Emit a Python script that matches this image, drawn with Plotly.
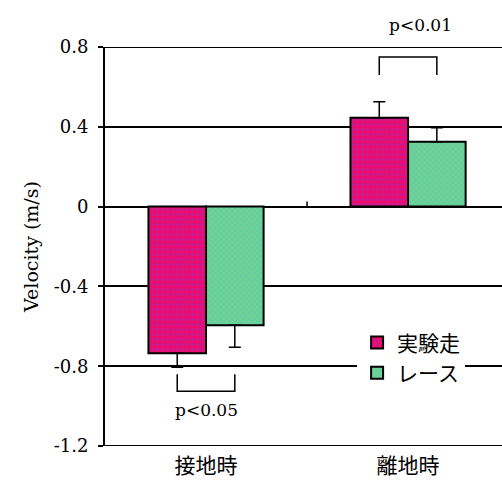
import plotly.graph_objects as go

categories = ["接地時", "離地時"]
series_names = ["実験走", "レース"]
jikken_values = [-0.735, 0.445]
jikken_sd = [0.07, 0.08]
race_values = [-0.595, 0.325]
race_sd = [0.11, 0.07]
y_ticks = [0.8, 0.4, 0, -0.4, -0.8, -1.2]
y_tick_labels = ["0.8", "0.4", "0", "-0.4", "-0.8", "-1.2"]
sig_labels = ["p<0.05", "p<0.01"]

xpos = list(range(len(categories)))
SERIF = "DejaVu Serif"
JP = "Noto Sans CJK JP"

def split_err(vals, sd):
    plus = [s if v >= 0 else 0 for v, s in zip(vals, sd)]
    minus = [s if v < 0 else 0 for v, s in zip(vals, sd)]
    return plus, minus

fig = go.Figure()
colors = ["#EC0B70", "#62CFA0"]
pats = [dict(shape=".", fgcolor="#7a3fc0", size=5, solidity=0.25),
        dict(shape="x", fgcolor="#b8d860", size=4, solidity=0.25)]
for name, vals, sd, col, pat in [
    (series_names[0], jikken_values, jikken_sd, colors[0], pats[0]),
    (series_names[1], race_values, race_sd, colors[1], pats[1]),
]:
    p, m = split_err(vals, sd)
    fig.add_trace(go.Bar(
        x=xpos, y=vals, name=name,
        marker=dict(color=col, line=dict(color="black", width=2), pattern=pat),
        error_y=dict(type="data", symmetric=False, array=p, arrayminus=m,
                     color="black", thickness=1.5, width=6),
    ))

# significance brackets
half = 0.1425
fig.add_shape(type="path", path=f"M {-half},-0.84 L {-half},-0.925 L {half},-0.925 L {half},-0.84",
              line=dict(color="black", width=1.5))
fig.add_shape(type="path", path=f"M {1-half},0.66 L {1-half},0.75 L {1+half},0.75 L {1+half},0.66",
              line=dict(color="black", width=1.5))
# category boundary tick on zero line
fig.add_shape(type="line", x0=0.5, x1=0.5, y0=0, y1=0.025, line=dict(color="black", width=1.5))
# top and bottom frame lines
for yv in (0.8, -1.2):
    fig.add_shape(type="line", xref="paper", x0=0, x1=1, y0=yv, y1=yv,
                  line=dict(color="black", width=2))

fig.add_annotation(x=0, y=-1.02, text=sig_labels[0], showarrow=False,
                   font=dict(family=SERIF, size=17, color="black"))
fig.add_annotation(x=1.064, yref="paper", y=1.055, yanchor="middle", text=sig_labels[1],
                   showarrow=False, font=dict(family=SERIF, size=17, color="black"))

fig.update_layout(
    width=502, height=490,
    margin=dict(l=105, r=0, t=47, b=44),
    paper_bgcolor="white", plot_bgcolor="white",
    barmode="group", bargap=0.43, bargroupgap=0,
    showlegend=True,
    legend=dict(x=0.635, y=0.31, xanchor="left", yanchor="top",
                bgcolor="white", borderwidth=0,
                font=dict(family=JP, size=21, color="black"),
                itemwidth=30, tracegroupgap=0),
    font=dict(family=SERIF, size=18, color="black"),
)
fig.update_xaxes(
    range=[-0.5, 1.465], tickvals=xpos, ticktext=categories,
    tickfont=dict(family=JP, size=21, color="black"),
    showgrid=False, zeroline=False, showline=False, ticks="", ticklen=0,
    ticklabelstandoff=5,
)
fig.update_yaxes(
    range=[-1.2, 0.8], tickvals=y_ticks, ticktext=y_tick_labels,
    showgrid=True, gridcolor="black", gridwidth=1.5,
    zeroline=True, zerolinecolor="black", zerolinewidth=1.5,
    showline=True, linecolor="black", linewidth=2,
    ticks="outside", ticklen=5, tickcolor="black", tickwidth=1.5,
    ticklabelstandoff=6,
    title=dict(text="Velocity (m/s)", font=dict(family=SERIF, size=19), standoff=10),
    tickfont=dict(family=SERIF, size=18, color="black"),
    mirror=False,
)
fig.write_html("out.html", config={"displayModeBar": False},
               post_script="document.body.style.margin='0';document.body.style.overflow='hidden';")
